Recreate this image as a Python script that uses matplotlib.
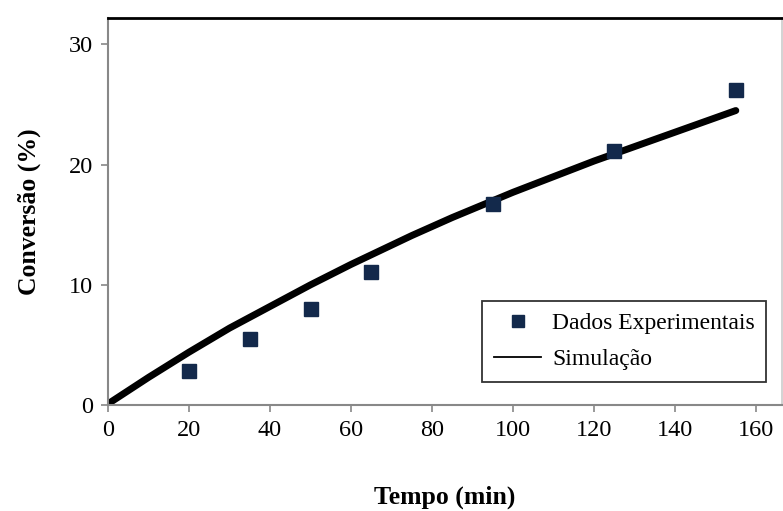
import numpy as np
import matplotlib
matplotlib.use("Agg")
import matplotlib.pyplot as plt
from matplotlib.lines import Line2D

plt.rcParams['font.family'] = ['Liberation Serif', 'DejaVu Serif']

# experimental points
t_exp = [20, 35, 50, 65, 95, 125, 155]
conv_exp = [2.8, 5.5, 8.0, 11.1, 16.7, 21.1, 26.2]

# simulated curve, read every 5 min
t_sim = [0, 5, 10, 15, 20, 25, 30, 35, 40, 45, 50, 55, 60, 65, 70, 75,
         80, 85, 90, 95, 100, 105, 110, 115, 120, 125, 130, 135, 140, 145, 150, 155]
conv_sim = [0.1, 1.2, 2.3, 3.35, 4.4, 5.4, 6.4, 7.3, 8.2, 9.1, 10.0, 10.85, 11.7, 12.5, 13.3, 14.1,
            14.85, 15.6, 16.3, 17.0, 17.7, 18.35, 19.0, 19.65, 20.3, 20.9, 21.5, 22.1, 22.7, 23.3, 23.9, 24.5]

fig = plt.figure(figsize=(7.83, 5.11), dpi=100)
ax = fig.add_axes([0.138, 0.2074, 0.8607, 0.7574])

ax.plot(t_sim, conv_sim, color='black', lw=5, solid_capstyle='round',
        solid_joinstyle='round', zorder=2)
ax.plot(t_exp, conv_exp, 's', color='#13294b', ms=9.6, zorder=3, lw=0)

ax.set_xlim(0, 166.4)
ax.set_ylim(0, 32.2)
ax.set_xticks(np.arange(0, 161, 20))
ax.set_yticks([0, 10, 20, 30])
ax.tick_params(direction='out', length=5, width=1.2, color='#888888',
               labelsize=17.5, pad=6)

for s in ['left', 'bottom']:
    ax.spines[s].set_color('#888888')
    ax.spines[s].set_linewidth(1.5)
ax.spines['right'].set_color('#cccccc')
ax.spines['right'].set_linewidth(1.2)
ax.spines['top'].set_color('black')
ax.spines['top'].set_linewidth(2)

ax.set_xlabel('Tempo (min)', fontsize=18.5, fontweight='bold')
ax.set_ylabel('Conversão (%)', fontsize=18.5, fontweight='bold')
ax.xaxis.set_label_coords(0.5, -0.207)
ax.yaxis.set_label_coords(-0.1, 0.5)

handles = [Line2D([], [], marker='s', ls='none', color='#13294b', ms=9),
           Line2D([], [], color='black', lw=1.3)]
leg = ax.legend(handles, ['Dados Experimentais', 'Simulação'],
                loc='lower right', bbox_to_anchor=(0.977, 0.059),
                fontsize=17, frameon=True, fancybox=False, edgecolor='black',
                handlelength=2.0, handletextpad=0.45, borderpad=0.5,
                labelspacing=0.62, borderaxespad=0)
leg.get_frame().set_linewidth(1.3)

fig.savefig('out.png', dpi=100)
